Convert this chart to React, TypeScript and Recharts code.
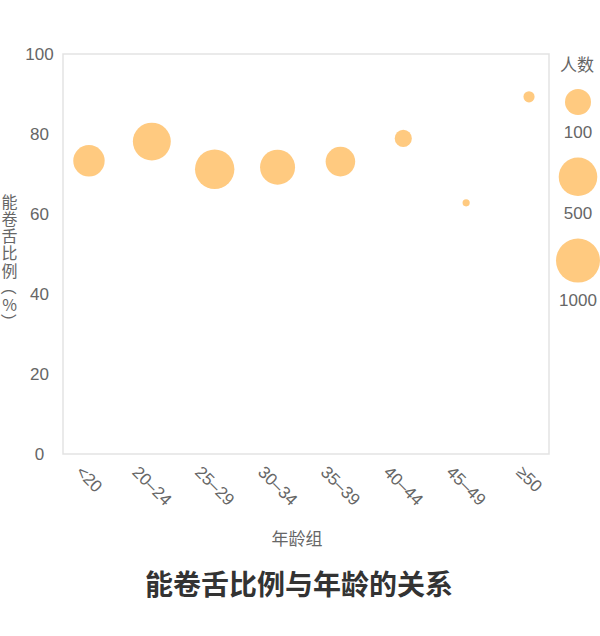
import React from 'react';
import { ScatterChart, Scatter, XAxis, YAxis, ReferenceArea, Customized } from 'recharts';

const categories = ['<20', '20–24', '25–29', '30–34', '35–39', '40–44', '45–49', '≥50'];
const rollRate = [73.3, 78.1, 71.2, 71.7, 73.1, 78.9, 62.8, 89.3];
const headcount = [200, 460, 555, 316, 158, 32, 9, 15];
const yTicks = [0, 20, 40, 60, 80, 100];
const legendCounts = [100, 500, 1000];
const yLabel = '能卷舌比例（%）';

const data = categories.map((c, i) => ({ idx: i, cat: c, rate: rollRate[i], count: headcount[i] }));

const BUBBLE = '#ffca80';
const TICK = '#666666';
const LATIN = "'Liberation Sans', 'Noto Sans CJK SC', sans-serif";
const CJK = "'Noto Sans CJK SC', sans-serif";
const X_MIN = -0.413;
const X_MAX = 7.318;

const rScale = (n: number) => 9 * Math.log10(n) - 5;

const XTick = (props: any) => {
  const { x, y, payload } = props;
  const label = categories[payload.value] ?? '';
  const fs = 17;
  const w = label.length * fs * 0.556;
  const h = fs * 0.72;
  const top = y + 3;
  const cy = top + (w + h) * 0.3536;
  return (
    <text
      x={x}
      y={cy}
      transform={`rotate(45, ${x}, ${cy})`}
      textAnchor="middle"
      dominantBaseline="central"
      fontSize={fs}
      fontFamily={LATIN}
      fill={TICK}
    >
      {label}
    </text>
  );
};

const YTick = (props: any) => {
  const { y, payload } = props;
  return (
    <text x={39.5} y={y} textAnchor="middle" dominantBaseline="central" fontSize={17} fontFamily={LATIN} fill={TICK}>
      {payload.value}
    </text>
  );
};

const Bubble = (props: any) => {
  const { cx, cy, payload } = props;
  if (cx == null || cy == null) return null;
  return <circle cx={cx} cy={cy} r={rScale(payload.count)} fill={BUBBLE} />;
};

const Extras = () => {
  const lx = 578;
  let cur = 63;
  const items = legendCounts.map((n, i) => {
    const r = rScale(n);
    const cyC = cur + (i === 0 ? 26 : 25) + r;
    const ty = cyC + r + 17.5;
    cur = ty;
    return { n, r, cyC, ty };
  });
  const chars = Array.from(yLabel);
  return (
    <g>
      <g>
        {chars.map((ch, i) => {
          const cy = 200.5 + i * 17.3;
          const rot = ch === '（' || ch === '）';
          const cx = rot ? 10 : 9.5;
          return (
            <text
              key={i}
              x={cx}
              y={cy}
              textAnchor="middle"
              dominantBaseline="central"
              fontSize={16}
              fontFamily={CJK}
              fill={TICK}
              transform={rot ? `rotate(90, ${cx}, ${cy})` : undefined}
            >
              {ch}
            </text>
          );
        })}
      </g>
      <text x={297} y={537} textAnchor="middle" dominantBaseline="central" fontSize={17} fontFamily={CJK} fill={TICK}>
        年龄组
      </text>
      <text x={299} y={583} textAnchor="middle" dominantBaseline="central" fontSize={28} fontWeight={700} fontFamily={CJK} fill="#333333">
        能卷舌比例与年龄的关系
      </text>
      <text x={lx - 1} y={63} textAnchor="middle" dominantBaseline="central" fontSize={17} fontFamily={CJK} fill={TICK}>
        人数
      </text>
      {items.map((it) => (
        <g key={it.n}>
          <circle cx={lx} cy={it.cyC} r={it.r} fill={BUBBLE} />
          <text x={lx} y={it.ty} textAnchor="middle" dominantBaseline="central" fontSize={17} fontFamily={LATIN} fill={TICK}>
            {it.n}
          </text>
        </g>
      ))}
    </g>
  );
};

export default function App() {
  return (
    <div style={{ position: 'absolute', left: 0, top: 0, width: 600, height: 636, background: '#fff' }}>
      <ScatterChart width={600} height={636} margin={{ top: 54, right: 51, bottom: 122, left: 0 }}>
        <XAxis
          type="number"
          dataKey="idx"
          domain={[X_MIN, X_MAX]}
          allowDataOverflow
          ticks={categories.map((_, i) => i)}
          interval={0}
          axisLine={false}
          tickLine={false}
          height={60}
          tick={<XTick />}
        />
        <YAxis
          type="number"
          dataKey="rate"
          domain={[0, 100]}
          ticks={yTicks}
          axisLine={false}
          tickLine={false}
          width={63}
          tick={<YTick />}
        />
        <ReferenceArea x1={X_MIN} x2={X_MAX} y1={0} y2={100} fill="none" stroke="#e3e3e3" strokeWidth={1.5} ifOverflow="visible" />
        <Scatter data={data} shape={<Bubble />} isAnimationActive={false} />
        <Customized component={<Extras />} />
      </ScatterChart>
    </div>
  );
}
